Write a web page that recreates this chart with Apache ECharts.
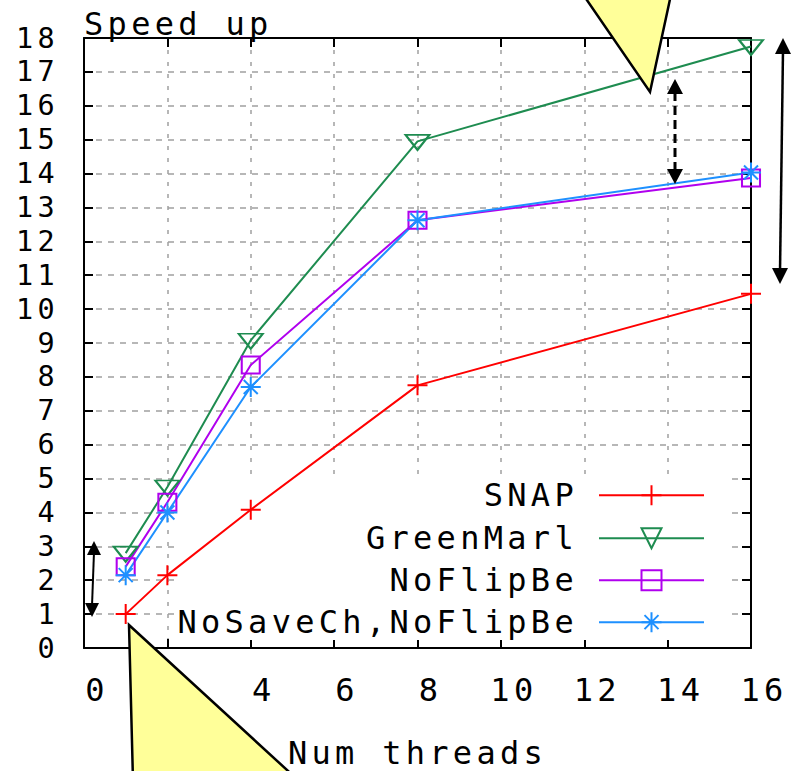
<!DOCTYPE html>
<html><head><meta charset="utf-8">
<script src="https://cdn.jsdelivr.net/npm/echarts@6/dist/echarts.min.js"></script>
<style>html,body{margin:0;padding:0;background:#fff}#c{width:793px;height:771px}#c svg text{letter-spacing:4.3px}</style>
</head><body><div id="c"></div>
<script>
// ---- data ----
const threads = [1, 2, 4, 8, 16];
const snap = [1.0, 2.15, 4.08, 7.75, 10.45];
const greenMarl = [2.8, 4.75, 9.08, 14.95, 17.75];
const noFlipBe = [2.4, 4.3, 8.35, 12.62, 13.87];
const noSaveChNoFlipBe = [2.15, 4.0, 7.7, 12.62, 14.03];
const seriesNames = ['SNAP', 'GreenMarl', 'NoFlipBe', 'NoSaveCh,NoFlipBe'];
const xRange = [0, 16, 2];
const yRange = [0, 18, 1];
const xTitle = 'Num threads';
const yTitle = 'Speed up';

// ---- styling ----
const FONT = '"DejaVu Sans Mono", "Liberation Mono", monospace';
const FS = 32;
const LH = 28;
const SPACING = 4.3;
const colors = ['#ff0000', '#1e8c50', '#b000ee', '#1e90ff'];
const symbols = [
  'path://M0,-10V10M-10,0H10',
  'path://M-11,-5L11,-5L0,8Z',
  'path://M-8,-8H8V8H-8Z',
  'path://M0,-10V10M-10,0H10M-7,-7L7,7M-7,7L7,-7'
];
const symbolSizes = [[20, 20], [24, 15], [18, 17], [20, 20]];
const seriesData = [snap, greenMarl, noFlipBe, noSaveChNoFlipBe];

// text measuring that accounts for the wide glyph pitch set in CSS
const mctx = document.createElement('canvas').getContext('2d');
echarts.setPlatformAPI({
  measureText(text, font) {
    mctx.font = font || '12px sans-serif';
    const s = String(text == null ? '' : text);
    return {width: mctx.measureText(s).width + SPACING * s.length};
  }
});

const chart = echarts.init(document.getElementById('c'), null, {renderer: 'svg'});

const series = seriesNames.map((name, k) => ({
  name, type: 'line',
  data: threads.map((t, i) => [t, seriesData[k][i]]),
  symbol: symbols[k], symbolSize: symbolSizes[k],
  symbolOffset: k === 1 ? [0, 1] : [0, 0],
  showSymbol: true,
  lineStyle: {color: colors[k], width: 2},
  itemStyle: {color: 'rgba(0,0,0,0)', borderColor: colors[k], borderWidth: 2},
  emphasis: {disabled: true},
  z: 3
}));

const legendRows = [493, 536, 578, 620];
const legends = seriesNames.map((name, k) => ({
  data: [name], orient: 'vertical', align: 'right',
  right: 88, top: legendRows[k] - 16, padding: 0,
  itemWidth: 105, itemHeight: 25, selectedMode: false,
  textStyle: {fontFamily: FONT, fontSize: FS, lineHeight: LH, color: '#000', padding: [0, 16, 0, 0]}
}));

const axisLineStyle = {show: true, onZero: false, lineStyle: {color: '#000', width: 2}};
const tickStyle = {show: true, inside: true, length: 9, lineStyle: {color: '#000', width: 2}};
const yLabelStyle = {fontFamily: FONT, fontSize: 28.5, lineHeight: 18, color: '#000', margin: 25, hideOverlap: false};

function arrowHead(tx, ty, dir, half, len) {
  return {type: 'polygon', z: 50, shape: {points: [[tx, ty], [tx - half, ty - dir * len], [tx + half, ty - dir * len]]}, style: {fill: '#000'}};
}

const option = {
  animation: false,
  backgroundColor: '#fff',
  grid: {left: 84, right: 42, top: 38, bottom: 123, containLabel: false, outerBoundsMode: 'none'},
  legend: legends,
  xAxis: [{
    type: 'value', min: xRange[0], max: xRange[1], interval: xRange[2], position: 'bottom',
    name: xTitle, nameLocation: 'middle', nameGap: 105,
    nameTextStyle: {fontFamily: FONT, fontSize: FS, lineHeight: LH, color: '#000', verticalAlign: 'middle'},
    axisLine: axisLineStyle, axisTick: tickStyle,
    axisLabel: {fontFamily: FONT, fontSize: FS, lineHeight: LH, color: '#000', margin: 28, padding: [0, 0, 0, 26],
      showMinLabel: true, showMaxLabel: true, hideOverlap: false},
    splitLine: {show: true, lineStyle: {color: '#a0a0a0', width: 1.5, type: [4, 8]}}
  }, {
    type: 'value', min: xRange[0], max: xRange[1], interval: xRange[2], position: 'top',
    axisLine: axisLineStyle, axisTick: tickStyle, axisLabel: {show: false}, splitLine: {show: false}
  }],
  yAxis: [{
    type: 'value', min: yRange[0], max: yRange[1], interval: yRange[2], position: 'left',
    name: yTitle, nameLocation: 'end', nameGap: 14,
    nameTextStyle: {fontFamily: FONT, fontSize: FS, lineHeight: LH, color: '#000', align: 'left', verticalAlign: 'middle'},
    axisLine: axisLineStyle, axisTick: tickStyle,
    axisLabel: Object.assign({showMinLabel: false, showMaxLabel: false}, yLabelStyle),
    splitLine: {show: true, lineStyle: {color: '#a0a0a0', width: 1.5, type: [6, 6]}}
  }, {
    type: 'value', min: yRange[0], max: yRange[1], interval: yRange[2], position: 'right',
    axisLine: axisLineStyle, axisTick: tickStyle, axisLabel: {show: false}, splitLine: {show: false}
  }, {
    // end labels (0 and top value) of the left axis
    type: 'value', min: yRange[0], max: yRange[1], interval: yRange[1] - yRange[0], position: 'left', offset: 0,
    axisLine: {show: false}, axisTick: {show: false}, splitLine: {show: false},
    axisLabel: Object.assign({showMinLabel: true, showMaxLabel: true}, yLabelStyle)
  }],
  series,
  graphic: [
    {type: 'rect', z: 1, shape: {x: 176, y: 474, width: 550, height: 166}, style: {fill: '#fff'}},
    {type: 'line', z: 50, shape: {x1: 783, y1: 50, x2: 780, y2: 272}, style: {stroke: '#000', lineWidth: 2.5}},
    arrowHead(783, 38, -1, 8, 16),
    arrowHead(780, 284, 1, 8, 16),
    {type: 'line', z: 50, shape: {x1: 675, y1: 92, x2: 675, y2: 172}, style: {stroke: '#000', lineWidth: 3, lineDash: [9, 5]}},
    arrowHead(675, 79, -1, 8, 15),
    arrowHead(675, 184, 1, 8, 15),
    {type: 'line', z: 50, shape: {x1: 94, y1: 552, x2: 92, y2: 606}, style: {stroke: '#000', lineWidth: 2}},
    arrowHead(94, 541, -1, 7, 14),
    arrowHead(92, 617, 1, 7, 14),
    {type: 'polygon', z: 60, shape: {points: [[580, -10], [672, -10], [650, 92]]}, style: {fill: '#ffff99', stroke: '#000', lineWidth: 2.5}},
    {type: 'polygon', z: 60, shape: {points: [[129, 625], [133, 781], [299, 781]]}, style: {fill: '#ffff99', stroke: '#000', lineWidth: 2.5}}
  ]
};
chart.setOption(option);
</script>
</body></html>
